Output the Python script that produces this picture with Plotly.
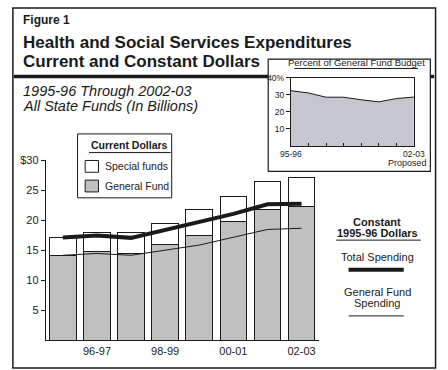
import plotly.graph_objects as go

W, H = 448, 370

# ---- data ----
years = ["95-96", "96-97", "97-98", "98-99", "99-00", "00-01", "01-02", "02-03"]
general_fund = [14.2, 14.85, 14.5, 16.0, 17.5, 19.8, 21.75, 22.4]
total_current = [17.2, 18.0, 18.0, 19.5, 21.75, 24.0, 26.5, 27.2]
special_funds = [round(t - g, 2) for t, g in zip(total_current, general_fund)]
constant_total = [17.15, 17.5, 17.1, 18.4, 19.8, 21.1, 22.7, 22.8]
constant_gf = [14.2, 14.5, 14.2, 15.1, 15.9, 17.2, 18.5, 18.7]
pct_gf_budget = [32.3, 31.0, 28.5, 28.5, 27.0, 25.8, 27.7, 28.6]
main_tick_labels = ["96-97", "98-99", "00-01", "02-03"]
y_ticks = [5, 10, 15, 20, 25, 30]
y_tick_text = ["5", "10", "15", "20", "25", "$30"]
inset_y_ticks = [10, 20, 30, 40]
inset_y_text = ["10", "20", "30", "40%"]

FONT = "Arial, Liberation Sans, Helvetica, sans-serif"
GRAY = "#c0c0c0"
INSET_FILL = "#c6c6ce"
DARK = "#1a1a1a"


def X(px):
    return px / W


def Y(py):
    return 1 - py / H


xs = list(range(len(years)))

fig = go.Figure()

fig.add_trace(go.Bar(x=xs, y=general_fund, marker=dict(color=GRAY, line=dict(color=DARK, width=1)),
                     width=0.78, showlegend=False, xaxis="x", yaxis="y"))
fig.add_trace(go.Bar(x=xs, y=special_funds, marker=dict(color="white", line=dict(color=DARK, width=1)),
                     width=0.78, showlegend=False, xaxis="x", yaxis="y"))
fig.add_trace(go.Scatter(x=xs, y=constant_gf, mode="lines", line=dict(color=DARK, width=1),
                         showlegend=False, xaxis="x", yaxis="y"))
fig.add_trace(go.Scatter(x=xs, y=constant_total, mode="lines", line=dict(color=DARK, width=4),
                         showlegend=False, xaxis="x", yaxis="y"))

# inset
fig.add_trace(go.Scatter(x=xs, y=pct_gf_budget, mode="lines", fill="tozeroy", fillcolor=INSET_FILL,
                         line=dict(color=DARK, width=1), showlegend=False, xaxis="x2", yaxis="y2"))

shapes = []
annotations = []

# thick rule under title
shapes.append(dict(type="rect", xref="paper", yref="paper", x0=X(3), x1=X(445), y0=Y(73.5), y1=Y(70),
                   fillcolor=DARK, line=dict(width=0), layer="below"))
# inset box
shapes.append(dict(type="rect", xref="paper", yref="paper", x0=X(270.5), x1=X(441), y0=Y(168), y1=Y(54),
                   fillcolor="white", line=dict(color=DARK, width=1.2), layer="below"))
# outer border
shapes.append(dict(type="rect", xref="paper", yref="paper", x0=X(2), x1=X(446.5), y0=Y(368), y1=Y(2),
                   line=dict(color=DARK, width=1.5), layer="above"))
# inset title underline
shapes.append(dict(type="line", xref="paper", yref="paper", x0=X(298), x1=X(428), y0=Y(63.5), y1=Y(63.5),
                   line=dict(color=DARK, width=1)))
# legend box
shapes.append(dict(type="rect", xref="paper", yref="paper", x0=X(70), x1=X(169), y0=Y(195), y1=Y(130),
                   fillcolor="white", line=dict(color=DARK, width=1)))
shapes.append(dict(type="line", xref="paper", yref="paper", x0=X(82), x1=X(168), y0=Y(149), y1=Y(149),
                   line=dict(color=DARK, width=1)))
shapes.append(dict(type="rect", xref="paper", yref="paper", x0=X(78), x1=X(92), y0=Y(169), y1=Y(157),
                   fillcolor="white", line=dict(color=DARK, width=1)))
shapes.append(dict(type="rect", xref="paper", yref="paper", x0=X(78), x1=X(92), y0=Y(189), y1=Y(177),
                   fillcolor=GRAY, line=dict(color=DARK, width=1)))
# right legend
shapes.append(dict(type="line", xref="paper", yref="paper", x0=X(342), x1=X(431), y0=Y(238), y1=Y(238),
                   line=dict(color=DARK, width=1)))
shapes.append(dict(type="line", xref="paper", yref="paper", x0=X(355), x1=X(413), y0=Y(268), y1=Y(268),
                   line=dict(color=DARK, width=4)))
shapes.append(dict(type="line", xref="paper", yref="paper", x0=X(355), x1=X(413), y0=Y(315), y1=Y(315),
                   line=dict(color=DARK, width=1)))


def txt(text, x, y, size, bold=False, italic=False, xanchor="left"):
    t = text
    if bold:
        t = "<b>" + t + "</b>"
    if italic:
        t = "<i>" + t + "</i>"
    annotations.append(dict(text=t, x=X(x), y=Y(y), xref="paper", yref="paper", xanchor=xanchor,
                            yanchor="middle", showarrow=False, font=dict(family=FONT, size=size, color=DARK)))


txt("Figure 1", 11, 14, 12, bold=True)
txt("Health and Social Services Expenditures", 10, 37, 17, bold=True)
txt("Current and Constant Dollars", 10, 56.5, 17, bold=True)
txt("1995-96 Through 2002-03", 10, 86, 14.5, italic=True)
txt("All State Funds (In Billions)", 10, 102, 14.5, italic=True)

txt("Percent of General Fund Budget", 363, 57.5, 9.5, xanchor="center")
txt("Proposed", 440, 159.5, 9, xanchor="right")

txt("Current Dollars", 125, 141, 10.5, bold=True, xanchor="center")
txt("Special funds", 97, 163, 10.5)
txt("General Fund", 97, 183, 10.5)

txt("Constant", 385, 220, 11, bold=True, xanchor="center")
txt("1995-96 Dollars", 385, 231, 11, bold=True, xanchor="center")
txt("Total Spending", 385, 255, 11, xanchor="center")
txt("General Fund", 385, 291, 11, xanchor="center")
txt("Spending", 385, 302, 11, xanchor="center")

fig.update_layout(
    width=W, height=H,
    margin=dict(l=0, r=0, t=0, b=0),
    paper_bgcolor="white", plot_bgcolor="rgba(0,0,0,0)",
    barmode="stack", bargap=0.22,
    shapes=shapes, annotations=annotations,
    font=dict(family=FONT, color=DARK),
    xaxis=dict(domain=[X(36.6), X(323.5)], range=[-0.5, 7.5], tickvals=[1, 3, 5, 7],
               ticktext=main_tick_labels, showline=True, linecolor=DARK, linewidth=1,
               ticks="", showgrid=False, zeroline=False, tickfont=dict(size=11, family=FONT),
               fixedrange=True),
    yaxis=dict(domain=[Y(340), Y(157)], range=[0, 30], tickvals=y_ticks, ticktext=y_tick_text,
               showline=True, linecolor=DARK, linewidth=1, ticks="outside", ticklen=4, tickcolor=DARK,
               showgrid=False, zeroline=False, tickfont=dict(size=11, family=FONT), fixedrange=True),
    xaxis2=dict(domain=[X(294.3), X(423.7)], range=[0, 7], anchor="y2", tickvals=xs,
                ticktext=["95-96", "", "", "", "", "", "", "02-03"], ticks="inside", ticklen=3,
                tickcolor=DARK, showline=True, mirror=True, linecolor=DARK, linewidth=1,
                showgrid=False, zeroline=False, tickfont=dict(size=8.5, family=FONT), fixedrange=True),
    yaxis2=dict(domain=[Y(142.3), Y(72.7)], range=[0, 40], anchor="x2", tickvals=inset_y_ticks,
                ticktext=inset_y_text, ticks="outside", ticklen=4, tickcolor=DARK, showline=True,
                mirror=True, linecolor=DARK, linewidth=1, showgrid=False, zeroline=False,
                tickfont=dict(size=8.5, family=FONT), fixedrange=True),
)

fig.write_html("out.html", config={"displayModeBar": False},
               post_script="document.body.style.margin='0';document.body.style.overflow='hidden';")
